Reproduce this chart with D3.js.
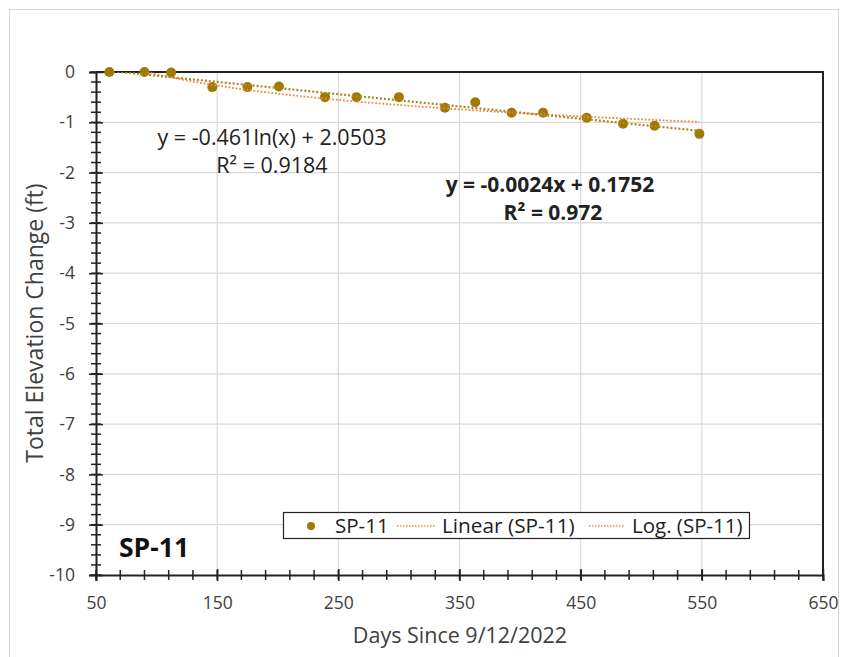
<!DOCTYPE html>
<html>
<head>
<meta charset="utf-8">
<script src="https://cdn.jsdelivr.net/npm/d3@7"></script>
<style>
  body { margin: 0; background: #fff; }
  text { font-family: "Open Sans", sans-serif; }
</style>
</head>
<body>
<div id="chart"></div>
<script>
// data
var days = [61, 90, 112, 146, 175, 201, 239, 265, 300, 338, 363, 393, 419, 455, 485, 511, 548];
var change = [0, 0, -0.01, -0.3, -0.3, -0.29, -0.5, -0.5, -0.5, -0.71, -0.6, -0.81, -0.81, -0.91, -1.03, -1.07, -1.23];
var xTicks = [50, 150, 250, 350, 450, 550, 650];
var yTicks = [0, -1, -2, -3, -4, -5, -6, -7, -8, -9, -10];
var seriesName = "SP-11";

var svgWidth = 847, svgHeight = 657;
var margin = {top: 72, right: 24, bottom: 82, left: 96};
var width = svgWidth - margin.left - margin.right;
var height = svgHeight - margin.top - margin.bottom;

var svg = d3.select("#chart").append("svg")
  .attr("width", svgWidth)
  .attr("height", svgHeight);

// outer chart frame
svg.append("rect")
  .attr("x", 9.5).attr("y", 9.5)
  .attr("width", 829).attr("height", 660)
  .attr("fill", "none").attr("stroke", "#d9d9d9");

var g = svg.append("g").attr("transform", `translate(${margin.left},${margin.top})`);

var x = d3.scaleLinear().domain([50, 650]).range([0, width]);
var y = d3.scaleLinear().domain([-10, 0]).range([height, 0]);

// gridlines
g.selectAll(".vgrid").data(xTicks.slice(1, -1)).enter().append("line")
  .attr("x1", d => x(d)).attr("x2", d => x(d))
  .attr("y1", 0).attr("y2", height)
  .attr("stroke", "#d9d9d9").attr("stroke-width", 1.2);
g.selectAll(".hgrid").data(yTicks.slice(1, -1)).enter().append("line")
  .attr("x1", 0).attr("x2", width)
  .attr("y1", d => y(d)).attr("y2", d => y(d))
  .attr("stroke", "#d9d9d9").attr("stroke-width", 1.2);

// plot border (top / right)
g.append("path")
  .attr("d", `M0,0H${width}V${height}`)
  .attr("fill", "none").attr("stroke", "#222").attr("stroke-width", 2);

// minor ticks
var xMinor = d3.range(50, 651, 20);
var yMinor = d3.range(0, -10.01, -0.2);
g.selectAll(".xminor").data(xMinor).enter().append("line")
  .attr("x1", d => x(d)).attr("x2", d => x(d))
  .attr("y1", height - 5).attr("y2", height + 5)
  .attr("stroke", "#222").attr("stroke-width", 1.5);
g.selectAll(".yminor").data(yMinor).enter().append("line")
  .attr("x1", -5).attr("x2", 5)
  .attr("y1", d => y(d)).attr("y2", d => y(d))
  .attr("stroke", "#222").attr("stroke-width", 1.5);

// axes
var bottomAxis = d3.axisBottom(x).tickValues(xTicks).tickSize(6).tickPadding(16).tickFormat(d => String(d));
var leftAxis = d3.axisLeft(y).tickValues(yTicks).tickSize(7).tickPadding(14).tickFormat(d => String(d));

var gx = g.append("g").attr("transform", `translate(0,${height})`).call(bottomAxis);
var gy = g.append("g").call(leftAxis);
[gx, gy].forEach(function(a) {
  a.select(".domain").attr("stroke", "#222").attr("stroke-width", 2);
  a.selectAll(".tick line").attr("stroke", "#222").attr("stroke-width", 1.5);
  a.selectAll(".tick text").attr("font-size", "17.5px").attr("fill", "#404040")
    .style("font-family", "'Open Sans', sans-serif");
});
gx.selectAll(".tick line").attr("y1", -6);
gy.selectAll(".tick line").attr("x2", 7).attr("x1", -7);

// trendlines (least squares)
function fit(xs, ys) {
  var mx = d3.mean(xs), my = d3.mean(ys);
  var sxy = d3.sum(xs, (v, i) => (v - mx) * (ys[i] - my));
  var sxx = d3.sum(xs, v => (v - mx) * (v - mx));
  var b = sxy / sxx;
  return {b: b, a: my - b * mx};
}
var lin = fit(days, change);
var lg = fit(days.map(Math.log), change);

svg.append("clipPath").attr("id", "plotclip")
  .append("rect").attr("x", margin.left).attr("y", margin.top).attr("width", width).attr("height", height);

var xMin = d3.min(days), xMax = d3.max(days);
var trendG = svg.append("g").attr("clip-path", "url(#plotclip)")
  .append("g").attr("transform", `translate(${margin.left},${margin.top})`);

var line = d3.line().x(d => x(d[0])).y(d => y(d[1]));
var xs = d3.range(xMin, xMax + 0.01, (xMax - xMin) / 100);

trendG.append("path")
  .attr("d", line(xs.map(v => [v, lg.a + lg.b * Math.log(v)])))
  .attr("fill", "none").attr("stroke", "#F4864A").attr("stroke-width", 1.8)
  .attr("stroke-dasharray", "1.8,1.8");

trendG.append("path")
  .attr("d", line([[xMin, lin.a + lin.b * xMin], [xMax, lin.a + lin.b * xMax]]))
  .attr("fill", "none").attr("stroke", "#A88A1E").attr("stroke-width", 2.2)
  .attr("stroke-dasharray", "2,2");

// points
g.selectAll("circle").data(days).enter().append("circle")
  .attr("cx", d => x(d))
  .attr("cy", (d, i) => y(change[i]))
  .attr("r", 5)
  .attr("fill", "#9E7A04");

// equations
svg.append("text").attr("x", 272).attr("y", 145).attr("text-anchor", "middle")
  .attr("font-size", "21.5px").attr("fill", "#222").text("y = -0.461ln(x) + 2.0503");
svg.append("text").attr("x", 272).attr("y", 173).attr("text-anchor", "middle")
  .attr("font-size", "21.5px").attr("fill", "#222").text("R² = 0.9184");
svg.append("text").attr("x", 550).attr("y", 192).attr("text-anchor", "middle")
  .attr("font-size", "21px").attr("font-weight", "bold").attr("fill", "#222").text("y = -0.0024x + 0.1752");
svg.append("text").attr("x", 553).attr("y", 220).attr("text-anchor", "middle")
  .attr("font-size", "21px").attr("font-weight", "bold").attr("fill", "#222").text("R² = 0.972");

// legend
var lgd = svg.append("g");
lgd.append("rect").attr("x", 283.5).attr("y", 512.5).attr("width", 466).attr("height", 26)
  .attr("fill", "#fff").attr("stroke", "#222").attr("stroke-width", 1.2);
lgd.append("circle").attr("cx", 311).attr("cy", 526).attr("r", 4).attr("fill", "#9E7A04");
lgd.append("text").attr("x", 335).attr("y", 533).attr("font-size", "20.5px").attr("fill", "#222").text(seriesName);
lgd.append("line").attr("x1", 397).attr("x2", 436).attr("y1", 526).attr("y2", 526)
  .attr("stroke", "#C9A227").attr("stroke-width", 1.5).attr("stroke-dasharray", "1.5,1.5");
lgd.append("text").attr("x", 442).attr("y", 533).attr("font-size", "20.8px").attr("fill", "#222").text("Linear (" + seriesName + ")");
lgd.append("line").attr("x1", 589).attr("x2", 625).attr("y1", 526).attr("y2", 526)
  .attr("stroke", "#F4864A").attr("stroke-width", 1.5).attr("stroke-dasharray", "1.5,1.5");
lgd.append("text").attr("x", 632).attr("y", 533).attr("font-size", "20.5px").attr("fill", "#222").text("Log. (" + seriesName + ")");

// series label
svg.append("text").attr("x", 119).attr("y", 557).attr("font-size", "26.5px").attr("font-weight", "bold")
  .attr("fill", "#111").text(seriesName);

// axis titles
svg.append("text").attr("x", 460).attr("y", 643).attr("text-anchor", "middle")
  .attr("font-size", "21.5px").attr("fill", "#404040").text("Days Since 9/12/2022");
svg.append("text").attr("transform", "translate(43,323) rotate(-90)").attr("text-anchor", "middle")
  .attr("font-size", "23px").attr("fill", "#404040").text("Total Elevation Change (ft)");
</script>
</body>
</html>
